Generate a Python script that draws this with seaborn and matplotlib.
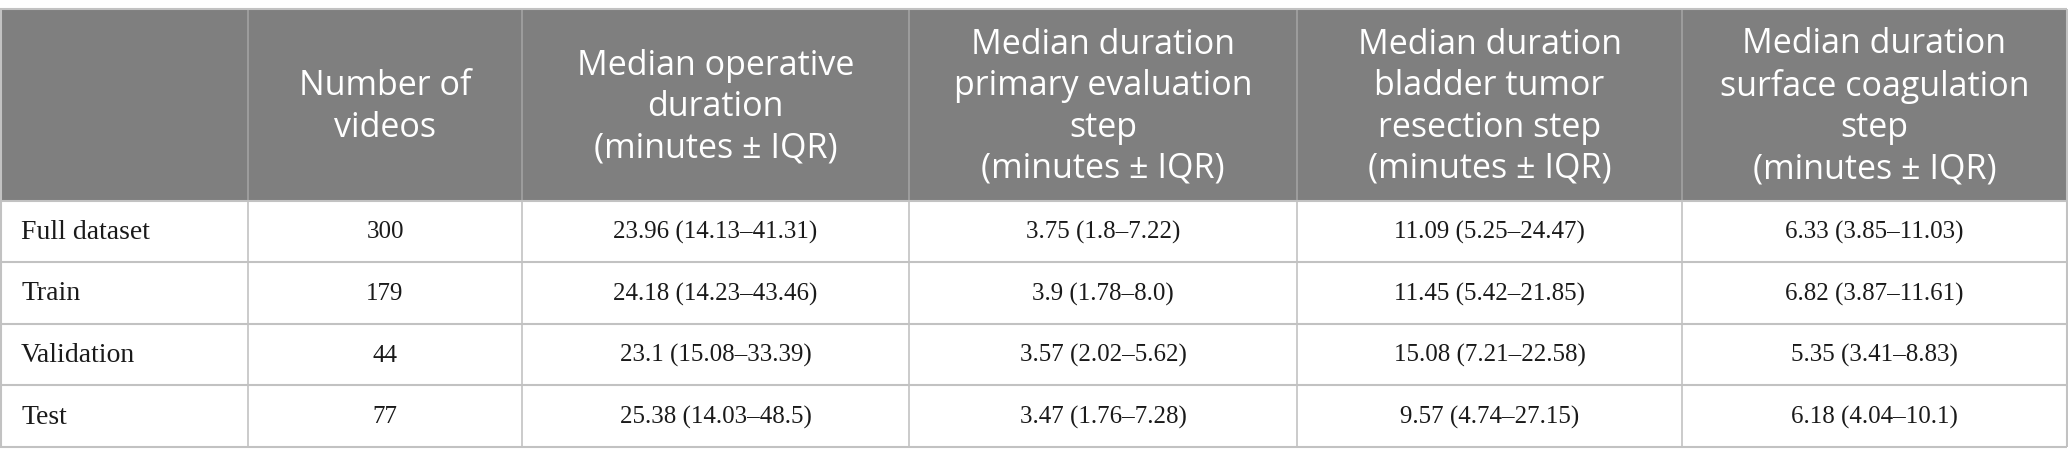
import numpy as np
import pandas as pd
import seaborn as sns
import matplotlib.pyplot as plt

# table content
row_labels = ['Full dataset', 'Train', 'Validation', 'Test']
col_headers = ['',
               'Number of\nvideos',
               'Median operative\nduration\n(minutes ± IQR)',
               'Median duration\nprimary evaluation\nstep\n(minutes ± IQR)',
               'Median duration\nbladder tumor\nresection step\n(minutes ± IQR)',
               'Median duration\nsurface coagulation\nstep\n(minutes ± IQR)']
n_videos = [300, 179, 44, 77]

op_med = [23.96, 24.18, 23.1, 25.38]
op_q1 = [14.13, 14.23, 15.08, 14.03]
op_q3 = [41.31, 43.46, 33.39, 48.5]

eval_med = [3.75, 3.9, 3.57, 3.47]
eval_q1 = [1.8, 1.78, 2.02, 1.76]
eval_q3 = [7.22, 8.0, 5.62, 7.28]

resec_med = [11.09, 11.45, 15.08, 9.57]
resec_q1 = [5.25, 5.42, 7.21, 4.74]
resec_q3 = [24.47, 21.85, 22.58, 27.15]

coag_med = [6.33, 6.82, 5.35, 6.18]
coag_q1 = [3.85, 3.87, 3.41, 4.04]
coag_q3 = [11.03, 11.61, 8.83, 10.1]


def fmt(med, q1, q3):
    return ['%s (%s–%s)' % (m, a, b) for m, a, b in zip(med, q1, q3)]


table = pd.DataFrame({
    'label': row_labels,
    'n': [str(v) for v in n_videos],
    'op': fmt(op_med, op_q1, op_q3),
    'eval': fmt(eval_med, eval_q1, eval_q3),
    'resec': fmt(resec_med, resec_q1, resec_q3),
    'coag': fmt(coag_med, coag_q1, coag_q3),
})

sns.set_theme(style='white')

W, H = 2068, 466
fig = plt.figure(figsize=(W / 100, H / 100), dpi=100)
ax = fig.add_axes([0, 0, 1, 1])
ax.set_xlim(0, W)
ax.set_ylim(H, 0)
ax.axis('off')

col_edges = [0, 248, 522, 909, 1297, 1682, 2067]
row_edges = [9, 201, 262, 324, 385, 447]
grid_col = '#c2c2c2'

# header band
ax.fill_between([col_edges[0], col_edges[-1]], row_edges[0], row_edges[1],
                color='#7f7f7f', lw=0)
ax.vlines(col_edges[1:-1], row_edges[0], row_edges[1], color='#a3a3a3', lw=1.2)

# body grid
ax.hlines(row_edges, col_edges[0], col_edges[-1], color=grid_col, lw=1.5)
ax.vlines(col_edges[1:-1], row_edges[1], row_edges[-1], color=grid_col, lw=1.2)
ax.vlines([col_edges[0] + 0.7, col_edges[-1]], row_edges[0], row_edges[-1],
          color=grid_col, lw=1.5)

# header text
for j, txt in enumerate(col_headers):
    xc = (col_edges[j] + col_edges[j + 1]) / 2
    yc = (row_edges[0] + row_edges[1]) / 2 + 2
    ax.text(xc, yc, txt, ha='center', va='center', color='white',
            fontsize=24.5, family='Open Sans', linespacing=1.28)

# body text
for i, row in table.iterrows():
    yc = (row_edges[i + 1] + row_edges[i + 2]) / 2 + 1
    ax.text(col_edges[0] + 21, yc, row['label'], ha='left', va='center',
            color='#1a1a1a', fontsize=20, family='Liberation Serif')
    for j, key in enumerate(['n', 'op', 'eval', 'resec', 'coag'], start=1):
        xc = (col_edges[j] + col_edges[j + 1]) / 2
        ax.text(xc, yc, row[key], ha='center', va='center',
                color='#1a1a1a', fontsize=18, family='Liberation Serif')

fig.savefig('out.png', dpi=100, facecolor='white')
